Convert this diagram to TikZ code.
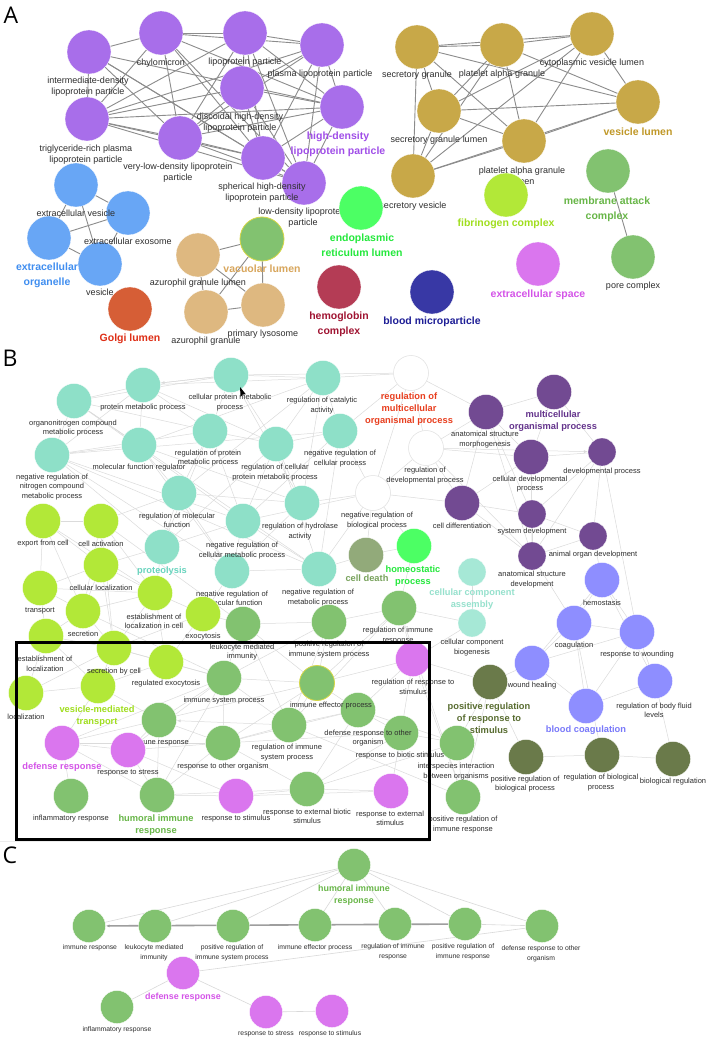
\documentclass[tikz,border=0pt]{standalone}
\usepackage{fontspec}
\setmainfont{Liberation Sans}
\newfontfamily\letterfont{Open Sans}
\usetikzlibrary{arrows.meta}
\pgfdeclarelayer{bg}
\pgfdeclarelayer{paper}
\pgfsetlayers{paper,bg,main}
\definecolor{cPurp}{RGB}{168,110,234}
\definecolor{tPurp}{RGB}{160,78,232}
\definecolor{cGold}{RGB}{200,168,72}
\definecolor{tGold}{RGB}{192,152,40}
\definecolor{cBlue}{RGB}{104,166,245}
\definecolor{tBlue}{RGB}{64,142,240}
\definecolor{cGolgi}{RGB}{214,94,54}
\definecolor{tGolgi}{RGB}{222,46,22}
\definecolor{cTan}{RGB}{222,184,128}
\definecolor{tTan}{RGB}{216,166,92}
\definecolor{cGreen}{RGB}{130,194,112}
\definecolor{tGreen}{RGB}{104,182,72}
\definecolor{cBright}{RGB}{76,255,100}
\definecolor{tBright}{RGB}{36,232,60}
\definecolor{cHb}{RGB}{180,60,85}
\definecolor{tHb}{RGB}{160,20,50}
\definecolor{cBM}{RGB}{56,56,165}
\definecolor{tBM}{RGB}{30,30,150}
\definecolor{cPink}{RGB}{218,118,238}
\definecolor{tPink}{RGB}{212,84,232}
\definecolor{cLime}{RGB}{178,232,56}
\definecolor{tLime}{RGB}{160,222,30}
\definecolor{cTeal}{RGB}{142,224,200}
\definecolor{tTeal}{RGB}{104,212,190}
\definecolor{cDPurp}{RGB}{114,74,146}
\definecolor{tDPurp}{RGB}{100,52,140}
\definecolor{cPeri}{RGB}{142,142,255}
\definecolor{tPeri}{RGB}{120,120,250}
\definecolor{cOlive}{RGB}{106,122,74}
\definecolor{tOlive}{RGB}{88,108,48}
\definecolor{cDeath}{RGB}{146,170,122}
\definecolor{tDeath}{RGB}{120,162,92}
\definecolor{cPale}{RGB}{166,232,214}
\definecolor{tPale}{RGB}{150,225,205}
\definecolor{tMulti}{RGB}{232,62,30}
\definecolor{ring}{RGB}{214,214,70}
\tikzset{
 circ/.style={circle,inner sep=0pt,draw=white,line width=0.3pt},
 na/.style={circ,minimum size=44pt},
 nb/.style={circ,minimum size=35pt},
 nbs/.style={circ,minimum size=28pt},
 nc/.style={circ,minimum size=33pt},
 wn/.style={nb,fill=white,draw=gray!25,line width=0.5pt},
 la/.style={font=\fontsize{9}{11}\selectfont,align=center,inner sep=0pt,text=black!82},
 lab/.style={font=\bfseries\fontsize{10.5}{15}\selectfont,align=center,inner sep=0pt},
 lb/.style={font=\fontsize{7.5}{9.5}\selectfont,align=center,inner sep=0pt,text=black!82},
 lbb/.style={font=\bfseries\fontsize{9.3}{12}\selectfont,align=center,inner sep=0pt},
 lc/.style={font=\fontsize{6.8}{9.8}\selectfont,align=center,inner sep=0pt,text=black!82},
 lcb/.style={font=\bfseries\fontsize{8.9}{12}\selectfont,align=center,inner sep=0pt},
 ea/.style={draw=black!45,line width=0.9pt},
 eb/.style={draw=black!14,line width=0.5pt},
 ebarrow/.style={eb,-{Latex[length=4pt,width=3pt]}},
 ec/.style={draw=black!15,line width=0.6pt},
 ecthick/.style={draw=black!38,line width=1.6pt,-{Latex[length=4pt,width=3pt]}},
 letter/.style={font=\letterfont\fontsize{23}{23}\selectfont,inner sep=0pt},
 boxframe/.style={draw=black,line width=3pt}
}
\begin{document}
\begin{tikzpicture}[x=1pt,y=-1pt]
\useasboundingbox (0,0) rectangle (708,1040);
\begin{pgfonlayer}{paper}
\fill[white] (0,0) rectangle (708,1040);
\draw[gray!15,line width=0.6pt] (0,841) -- (430,841);
\end{pgfonlayer}

% ---------------- Panel A ----------------
\node[letter] (LA) at (11,15) {A};
% purple
\node[na,fill=cPurp] (p1) at (89,52) {};
\node[na,fill=cPurp] (p2) at (161,33) {};
\node[na,fill=cPurp] (p3) at (245,33) {};
\node[na,fill=cPurp] (p4) at (322,45) {};
\node[na,fill=cPurp] (p5) at (242,88) {};
\node[na,fill=cPurp] (p6) at (342,107) {};
\node[na,fill=cPurp] (p7) at (87,119) {};
\node[na,fill=cPurp] (p8) at (180,138) {};
\node[na,fill=cPurp] (p9) at (263,158) {};
\node[na,fill=cPurp] (p10) at (304,183) {};
\node[la] (p1l) at (88,86.5) {intermediate-density\\lipoprotein particle};
\node[la] (p2l) at (161,63) {chylomicron};
\node[la] (p3l) at (245,62) {lipoprotein particle};
\node[la] (p4l) at (320,74) {plasma lipoprotein particle};
\node[la] (p5l) at (240,122.5) {discoidal high-density\\lipoprotein particle};
\node[lab,text=tPurp] (p6l) at (338,144.5) {high-density\\lipoprotein particle};
\node[la] (p7l) at (86,154.5) {triglyceride-rich plasma\\lipoprotein particle};
\node[la] (p8l) at (178,172.5) {very-low-density lipoprotein\\particle};
\node[la] (p9l) at (262,193) {spherical high-density\\lipoprotein particle};
\node[la] (p10l) at (303,217.5) {low-density lipoprotein\\particle};
% gold
\node[na,fill=cGold] (s1) at (417,47) {};
\node[na,fill=cGold] (s2) at (502,45) {};
\node[na,fill=cGold] (s3) at (592,34) {};
\node[na,fill=cGold] (s4) at (638,102) {};
\node[na,fill=cGold] (s5) at (439,111) {};
\node[na,fill=cGold] (s6) at (524,141) {};
\node[na,fill=cGold] (s7) at (413,176) {};
\node[la] (s1l) at (417,75) {secretory granule};
\node[la] (s2l) at (502,74) {platelet alpha granule};
\node[la] (s3l) at (592,63) {cytoplasmic vesicle lumen};
\node[lab,text=tGold] (s4l) at (638,132) {vesicle lumen};
\node[la] (s5l) at (439,140) {secretory granule lumen};
\node[la] (s6l) at (522,175.5) {platelet alpha granule\\lumen};
\node[la] (s7l) at (413,206) {secretory vesicle};
% blue
\node[na,fill=cBlue] (e1) at (76,185) {};
\node[na,fill=cBlue] (e2) at (128,213) {};
\node[na,fill=cBlue] (e3) at (49,238) {};
\node[na,fill=cBlue] (e4) at (100,264) {};
\node[la] (e1l) at (76,213) {extracellular vesicle};
\node[la] (e2l) at (128,241) {extracellular exosome};
\node[lab,text=tBlue] (e3l) at (47,275.5) {extracellular\\organelle};
\node[la] (e4l) at (100,292) {vesicle};
% tan
\node[na,fill=cTan] (v1) at (198,255) {};
\node[na,fill=cGreen,draw=ring,line width=0.8pt] (v2) at (262,239) {};
\node[na,fill=cTan] (v3) at (206,312) {};
\node[na,fill=cTan] (v4) at (263,305) {};
\node[la] (v1l) at (198,283) {azurophil granule lumen};
\node[lab,text=tTan] (v2l) at (262,269) {vacuolar lumen};
\node[la] (v3l) at (206,341) {azurophil granule};
\node[la] (v4l) at (263,334) {primary lysosome};
% singles
\node[na,fill=cGolgi] (go) at (130,309) {};
\node[lab,text=tGolgi] (gol) at (130,339) {Golgi lumen};
\node[na,fill=cBright] (er) at (361,208) {};
\node[lab,text=tBright] (erl) at (362,245) {endoplasmic\\reticulum lumen};
\node[na,fill=cHb] (hb) at (339,287) {};
\node[lab,text=tHb] (hbl) at (339,324) {hemoglobin\\complex};
\node[na,fill=cBM] (bm) at (432,292) {};
\node[lab,text=tBM] (bml) at (432,322) {blood microparticle};
\node[na,fill=cPink] (es) at (538,264) {};
\node[lab,text=tPink] (esl) at (538,295) {extracellular space};
\node[na,fill=cLime] (fc) at (506,195) {};
\node[lab,text=tLime] (fcl) at (506,224) {fibrinogen complex};
\node[na,fill=cGreen] (mac) at (608,171) {};
\node[lab,text=tGreen] (macl) at (607,209.5) {membrane attack\\complex};
\node[na,fill=cGreen] (pc) at (633,257) {};
\node[la] (pcl) at (633,286) {pore complex};

\begin{pgfonlayer}{bg}
\foreach \a/\b in {p1/p2,p1/p7,p1/p8,p1/p9,p1/p10,p1/p6,p2/p3,p2/p4,p2/p8,p2/p9,p2/p10,p2/p6,p2/p7,
 p3/p4,p3/p5,p3/p7,p3/p8,p3/p9,p3/p10,p3/p6,p4/p6,p4/p7,p4/p8,p4/p9,p4/p10,p4/p5,
 p5/p7,p5/p8,p5/p9,p5/p10,p5/p6,p6/p7,p6/p8,p6/p9,p6/p10,p7/p8,p7/p9,p7/p10,p8/p9,p8/p10,p9/p10,
 s1/s2,s1/s3,s1/s4,s1/s5,s1/s6,s1/s7,s2/s3,s2/s4,s2/s5,s2/s6,s2/s7,s3/s4,s3/s5,s3/s6,s3/s7,
 s4/s5,s4/s6,s4/s7,s5/s6,s5/s7,s6/s7,
 e1/e2,e1/e3,e1/e4,e2/e3,e2/e4,e3/e4,
 v1/v2,v1/v3,v1/v4,v2/v3,v2/v4,v3/v4,mac/pc}
 {\draw[ea] (\a) -- (\b);}
\end{pgfonlayer}

% ---------------- Panel B ----------------
\node[letter] (LB) at (10,358) {B};
% teal
\node[nb,fill=cTeal] (t1) at (143,385) {};
\node[nb,fill=cTeal] (t2) at (231,375) {};
\node[nb,fill=cTeal] (t3) at (323,378) {};
\node[nb,fill=cTeal] (t4) at (74,401) {};
\node[nb,fill=cTeal] (t5) at (210,431) {};
\node[nb,fill=cTeal] (t6) at (139,445) {};
\node[nb,fill=cTeal] (t7) at (276,444) {};
\node[nb,fill=cTeal] (t8) at (340,431) {};
\node[nb,fill=cTeal] (t9) at (52,455) {};
\node[nb,fill=cTeal] (t10) at (179,493) {};
\node[nb,fill=cTeal] (t11) at (302,503) {};
\node[nb,fill=cTeal] (t12) at (243,521) {};
\node[nb,fill=cTeal] (t13) at (162,547) {};
\node[nb,fill=cTeal] (t14) at (232,571) {};
\node[nb,fill=cTeal] (t15) at (319,569) {};
\node[lb] (t1l) at (143,408) {protein metabolic process};
\node[lb] (t2l) at (230,402.5) {cellular protein metabolic\\process};
\node[lb] (t3l) at (322,405.5) {regulation of catalytic\\activity};
\node[lb] (t4l) at (73,428) {organonitrogen compound\\metabolic process};
\node[lb] (t5l) at (208,458) {regulation of protein\\metabolic process};
\node[lb] (t6l) at (139,468) {molecular function regulator};
\node[lb] (t7l) at (275,472.5) {regulation of cellular\\protein metabolic process};
\node[lb] (t8l) at (340,458.5) {negative regulation of\\cellular process};
\node[lb] (t9l) at (52,487) {negative regulation of\\nitrogen compound\\metabolic process};
\node[lb] (t10l) at (177,520.5) {regulation of molecular\\function};
\node[lb] (t11l) at (300,531.5) {regulation of hydrolase\\activity};
\node[lb] (t12l) at (242,550.5) {negative regulation of\\cellular metabolic process};
\node[lbb,text=tTeal] (t13l) at (162,571) {proteolysis};
\node[lb] (t14l) at (232,598.5) {negative regulation of\\molecular function};
\node[lb] (t15l) at (318,597.5) {negative regulation of\\metabolic process};
% white
\node[wn] (w1) at (411,373) {};
\node[wn] (w2) at (426,448) {};
\node[wn] (w3) at (373,493) {};
\node[lbb,text=tMulti] (w1l) at (409,409) {regulation of\\multicellular\\organismal process};
\node[lb] (w2l) at (425,475.5) {regulation of\\developmental process};
\node[lb] (w3l) at (377,520.5) {negative regulation of\\biological process};
% dark purple
\node[nb,fill=cDPurp] (d1) at (486,412) {};
\node[nb,fill=cDPurp] (d2) at (554,392) {};
\node[nb,fill=cDPurp] (d3) at (531,457) {};
\node[nbs,fill=cDPurp] (d4) at (602,452) {};
\node[nb,fill=cDPurp] (d5) at (462,503) {};
\node[nbs,fill=cDPurp] (d6) at (532,514) {};
\node[nbs,fill=cDPurp] (d7) at (593,536) {};
\node[nbs,fill=cDPurp] (d8) at (532,556) {};
\node[lb] (d1l) at (485,439.5) {anatomical structure\\morphogenesis};
\node[lbb,text=tDPurp] (d2l) at (553,421.5) {multicellular\\organismal process};
\node[lb] (d3l) at (530,484) {cellular developmental\\process};
\node[lb] (d4l) at (602,472) {developmental process};
\node[lb] (d5l) at (462,526) {cell differentiation};
\node[lb] (d6l) at (532,532) {system development};
\node[lb] (d7l) at (593,555) {animal organ development};
\node[lb] (d8l) at (532,579.5) {anatomical structure\\development};
% misc
\node[nb,fill=cDeath] (cd) at (366,555) {};
\node[lbb,text=tDeath] (cdl) at (367,578) {cell death};
\node[nb,fill=cBright] (hp) at (414,546) {};
\node[lbb,text=tBright] (hpl) at (413,576.5) {homeostatic\\process};
\node[nbs,fill=cPale] (ca) at (472,572) {};
\node[lbb,text=tPale] (cal) at (472,599) {cellular component\\assembly};
\node[nbs,fill=cPale] (cb) at (472,623) {};
\node[lb] (cbl) at (472,647.5) {cellular component\\biogenesis};
% lime
\node[nb,fill=cLime] (l1) at (43,521) {};
\node[nb,fill=cLime] (l2) at (101,521) {};
\node[nb,fill=cLime] (l3) at (101,565) {};
\node[nb,fill=cLime] (l4) at (40,588) {};
\node[nb,fill=cLime] (l5) at (83,611) {};
\node[nb,fill=cLime] (l6) at (155,593) {};
\node[nb,fill=cLime] (l7) at (203,614) {};
\node[nb,fill=cLime] (l8) at (46,636) {};
\node[nb,fill=cLime] (l9) at (114,648) {};
\node[nb,fill=cLime] (l10) at (166,662) {};
\node[nb,fill=cLime] (l11) at (26,693) {};
\node[nb,fill=cLime] (l12) at (98,686) {};
\node[lb] (l1l) at (43,544) {export from cell};
\node[lb] (l2l) at (101,544) {cell activation};
\node[lb] (l3l) at (101,588) {cellular localization};
\node[lb] (l4l) at (40,611) {transport};
\node[lb] (l5l) at (83,634) {secretion};
\node[lb] (l6l) at (154,621.5) {establishment of\\localization in cell};
\node[lb] (l7l) at (203,637) {exocytosis};
\node[lb] (l8l) at (45,664) {establishment of\\localization};
\node[lb] (l9l) at (114,672) {secretion by cell};
\node[lb] (l10l) at (166,684) {regulated exocytosis};
\node[lb] (l11l) at (26,717) {localization};
\node[lbb,text=tLime] (l12l) at (97,716) {vesicle-mediated\\transport};
% green immune
\node[nb,fill=cGreen] (g1) at (243,624) {};
\node[nb,fill=cGreen] (g2) at (329,622) {};
\node[nb,fill=cGreen] (g3) at (399,608) {};
\node[nb,fill=cGreen] (g4) at (224,678) {};
\node[nb,fill=cGreen,draw=ring,line width=0.8pt] (g5) at (317,683) {};
\node[nb,fill=cGreen] (g6) at (358,710) {};
\node[nb,fill=cGreen] (g7) at (159,720) {};
\node[nb,fill=cGreen] (g8) at (223,743) {};
\node[nb,fill=cGreen] (g9) at (289,725) {};
\node[nb,fill=cGreen] (g10) at (401,733) {};
\node[nb,fill=cGreen] (g11) at (71,796) {};
\node[nb,fill=cGreen] (g12) at (157,795) {};
\node[nb,fill=cGreen] (g13) at (307,789) {};
\node[nb,fill=cGreen] (g14) at (457,743) {};
\node[nb,fill=cGreen] (g15) at (463,797) {};
\node[lb] (g1l) at (242,652) {leukocyte mediated\\immunity};
\node[lb] (g2l) at (329,649.5) {positive regulation of\\immune system process};
\node[lb] (g3l) at (398,635.5) {regulation of immune\\response};
\node[lb] (g4l) at (224,701) {immune system process};
\node[lb] (g5l) at (331,706) {immune effector process};
\node[lb] (g6l) at (368,738) {defense response to other\\organism};
\node[lb] (g7l) at (159,743) {immune response};
\node[lb] (g8l) at (223,767) {response to other organism};
\node[lb] (g9l) at (287,752.5) {regulation of immune\\system process};
\node[lb] (g10l) at (400,756) {response to biotic stimulus};
\node[lb] (g11l) at (71,819) {inflammatory response};
\node[lbb,text=tGreen] (g12l) at (156,825) {humoral immune\\response};
\node[lb] (g13l) at (307,816.5) {response to external biotic\\stimulus};
\node[lb] (g14l) at (456,771.5) {interspecies interaction\\between organisms};
\node[lb] (g15l) at (463,824.5) {positive regulation of\\immune response};
% pink
\node[nb,fill=cPink] (k1) at (413,659) {};
\node[nb,fill=cPink] (k2) at (62,743) {};
\node[nb,fill=cPink] (k3) at (128,750) {};
\node[nb,fill=cPink] (k4) at (236,796) {};
\node[nb,fill=cPink] (k5) at (391,791) {};
\node[lb] (k1l) at (413,687) {regulation of response to\\stimulus};
\node[lbb,text=tPink] (k2l) at (62,767) {defense response};
\node[lb] (k3l) at (128,773) {response to stress};
\node[lb] (k4l) at (236,819) {response to stimulus};
\node[lb] (k5l) at (390,818.5) {response to external\\stimulus};
% periwinkle
\node[nb,fill=cPeri] (b1) at (602,580) {};
\node[nb,fill=cPeri] (b2) at (574,623) {};
\node[nb,fill=cPeri] (b3) at (637,632) {};
\node[nb,fill=cPeri] (b4) at (532,663) {};
\node[nb,fill=cPeri] (b5) at (655,681) {};
\node[nb,fill=cPeri] (b6) at (586,706) {};
\node[lb] (b1l) at (602,603) {hemostasis};
\node[lb] (b2l) at (574,646) {coagulation};
\node[lb] (b3l) at (637,655) {response to wounding};
\node[lb] (b4l) at (532,686) {wound healing};
\node[lb] (b5l) at (654,710.5) {regulation of body fluid\\levels};
\node[lbb,text=tPeri] (b6l) at (586,730) {blood coagulation};
% olive
\node[nb,fill=cOlive] (o1) at (490,682) {};
\node[nb,fill=cOlive] (o2) at (526,757) {};
\node[nb,fill=cOlive] (o3) at (602,755) {};
\node[nb,fill=cOlive] (o4) at (673,759) {};
\node[lbb,text=tOlive] (o1l) at (489,718) {positive regulation\\of response to\\stimulus};
\node[lb] (o2l) at (525,784) {positive regulation of\\biological process};
\node[lb] (o3l) at (601,782.5) {regulation of biological\\process};
\node[lb] (o4l) at (673,782) {biological regulation};
% frame
\node[boxframe,inner sep=0pt,minimum width=413pt,minimum height=197pt,anchor=north west] (frame) at (15,641) {};
% cursor
\fill[black] (240,387) -- (240.6,397) -- (242.6,394.6) -- (245.8,394.2) -- cycle;

\begin{pgfonlayer}{bg}
\foreach \a/\b in {t1/t2,t1/t4,t1/t5,t1/t6,t1/t9,t1/t7,t1/t3,t2/t3,t2/t5,t2/t7,t2/t4,t2/t11,t2/w1,
 t3/t7,t3/t8,t3/t11,t3/t6,t3/t10,t4/t5,t4/t9,t4/t6,t4/t12,t4/t15,t5/t7,t5/t12,t5/t13,t5/t10,t5/t9,
 t6/t9,t6/t10,t6/t11,t6/t14,t7/t12,t7/t15,t7/t8,t7/t11,t7/t13,t8/t12,t8/t15,t8/w3,t8/t9,
 t9/t12,t9/t15,t9/t13,t10/t11,t10/t14,t10/t13,t11/t14,t12/t15,t12/t14,t12/t13,t14/t15,
 t3/w1,t8/w1,t15/w3,t12/w3,t11/w3,t9/t14,
 w1/w2,w2/w3,w1/w3,w2/d1,w2/d3,w2/d5,w3/d5,w1/d1,w3/hp,w3/cd,w2/d8,
 d1/d2,d1/d3,d1/d5,d1/d6,d1/d8,d2/d4,d2/d3,d3/d4,d3/d5,d3/d6,d3/d8,d4/d6,d4/d7,d4/d8,
 d5/d6,d5/d8,d6/d7,d6/d8,d7/d8,d7/b1,d8/b2,d4/b3,
 l1/l2,l1/l3,l1/l4,l1/l6,l1/l5,l2/l3,l2/l6,l2/l9,l2/l5,l3/l4,l3/l5,l3/l6,l3/l9,l4/l5,l4/l8,l4/l6,
 l5/l6,l5/l8,l5/l9,l6/l7,l6/l9,l6/l10,l7/l10,l7/l9,l8/l9,l8/l11,l8/l12,l9/l10,l9/l12,l10/l12,
 l11/l12,l11/l9,l2/t10,l2/g1,l7/g1,l10/g4,l9/g4,l12/k2,l12/g7,l5/g4,l3/t13,l6/t13,l7/t14,
 g1/g2,g1/g4,g1/g5,g1/g9,g2/g4,g2/g5,g2/g3,g2/g9,g3/g5,g3/k1,g3/g9,g3/g15,g3/cb,
 g4/g5,g4/g7,g4/g9,g4/g12,g5/g9,g5/g6,g5/g8,g5/g7,g6/g8,g6/g10,g6/g14,g6/g9,g6/g13,
 g7/g8,g7/g12,g7/k2,g7/k3,g8/g9,g8/g10,g8/g13,g8/g12,g9/g15,g10/g13,g10/k5,g10/g14,
 g11/k2,g12/k2,g12/k3,g12/k4,g13/k4,g13/k5,g13/g14,g14/g15,k1/o1,k1/g15,k1/g6,k3/k4,k2/k3,
 k4/k5,g12/g13,k2/g4,k2/g8,k3/g8,k3/g4,k1/g5,k1/g10,g14/o1,g15/o1,o1/b4,o1/o2,o2/o3,o3/o4,
 k1/cb,
 b1/b2,b1/b3,b2/b3,b2/b4,b2/b6,b3/b5,b3/b6,b4/b6,b1/b5,b5/b6,b3/b4,b1/b4,b2/o3,b5/o4,
 cd/hp,cd/t15,ca/cb,hp/g3}
 {\draw[eb] (\a) -- (\b);}
\draw[ebarrow] (t2) -- (t1);
\draw[ebarrow] (w2) -- (d4);
\draw[ebarrow] (g9) -- (g7);
\draw[ebarrow] (g8) -- (g4);
\end{pgfonlayer}

% ---------------- Panel C ----------------
\node[letter] (LC) at (10,855) {C};
\node[nc,fill=cGreen] (cH) at (354,865) {};
\node[nc,fill=cGreen] (cIR) at (89,926) {};
\node[nc,fill=cGreen] (cLM) at (155,926) {};
\node[nc,fill=cGreen] (cPRS) at (233,926) {};
\node[nc,fill=cGreen] (cIE) at (315,925) {};
\node[nc,fill=cGreen] (cRI) at (395,924) {};
\node[nc,fill=cGreen] (cPR) at (465,924) {};
\node[nc,fill=cGreen] (cDO) at (542,926) {};
\node[nc,fill=cPink] (cDR) at (183,973) {};
\node[nc,fill=cGreen] (cINF) at (117,1007) {};
\node[nc,fill=cPink] (cRS) at (266,1012) {};
\node[nc,fill=cPink] (cST) at (332,1011) {};
\node[lcb,text=tGreen] (cHl) at (354,895) {humoral immune\\response};
\node[lc] (cIRl) at (90,948) {immune response};
\node[lc] (cLMl) at (154,953) {leukocyte mediated\\immunity};
\node[lc] (cPRSl) at (232,953) {positive regulation of\\immune system process};
\node[lc] (cIEl) at (315,948) {immune effector process};
\node[lc] (cRIl) at (393,952) {regulation of immune\\response};
\node[lc] (cPRl) at (463,952) {positive regulation of\\immune response};
\node[lc] (cDOl) at (541,954) {defense response to other\\organism};
\node[lcb,text=tPink] (cDRl) at (183,997) {defense response};
\node[lc] (cINFl) at (117,1030) {inflammatory response};
\node[lc] (cRSl) at (266,1034) {response to stress};
\node[lc] (cSTl) at (330,1034) {response to stimulus};
\begin{pgfonlayer}{bg}
\foreach \a/\b in {cH/cIR,cH/cLM,cH/cPRS,cH/cIE,cH/cRI,cH/cPR,cH/cDO,cPR/cDO,cDR/cDO,cDR/cINF,cDR/cRS,cRS/cST}
 {\draw[ec] (\a) -- (\b);}
\draw[ecthick] (cPR) -- (cIR);
\end{pgfonlayer}
\end{tikzpicture}
\end{document}
